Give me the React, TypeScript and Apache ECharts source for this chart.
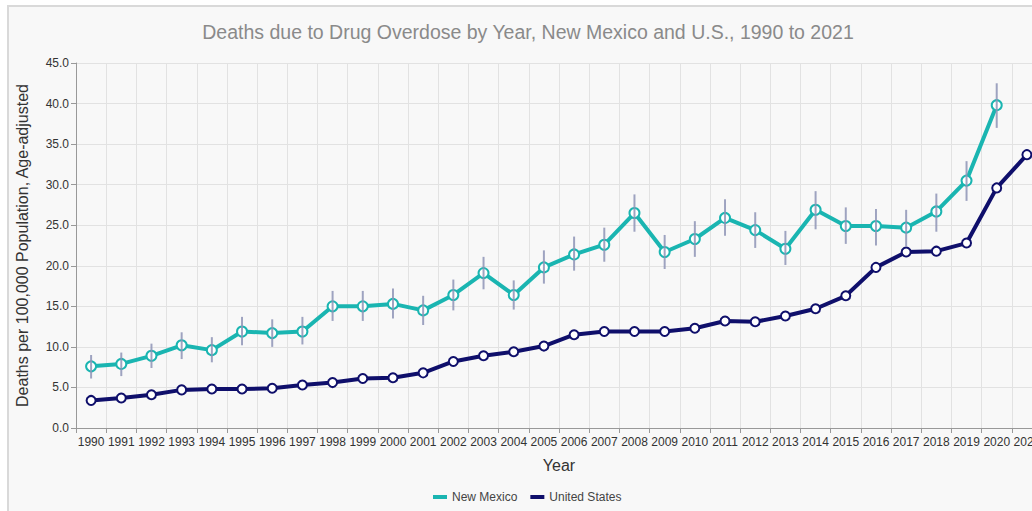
import React, { useEffect, useRef } from "react";
import * as echarts from "echarts";

const years = [
  "1990", "1991", "1992", "1993", "1994", "1995", "1996", "1997", "1998", "1999",
  "2000", "2001", "2002", "2003", "2004", "2005", "2006", "2007", "2008", "2009",
  "2010", "2011", "2012", "2013", "2014", "2015", "2016", "2017", "2018", "2019",
  "2020", "2021",
];

const newMexico = [
  7.6, 7.9, 8.9, 10.2, 9.6, 11.9, 11.7, 11.9, 15.0, 15.0,
  15.3, 14.5, 16.4, 19.1, 16.4, 19.8, 21.4, 22.6, 26.5, 21.7,
  23.3, 25.9, 24.4, 22.1, 26.9, 24.9, 24.9, 24.7, 26.7, 30.5,
  39.8, null,
];

const newMexicoLow = [
  6.1, 6.4, 7.4, 8.5, 8.1, 10.2, 10.0, 10.3, 13.2, 13.2,
  13.5, 12.7, 14.5, 17.1, 14.6, 17.8, 19.4, 20.5, 24.2, 19.6,
  21.1, 23.7, 22.2, 20.1, 24.5, 22.7, 22.5, 22.4, 24.2, 28.0,
  37.0, null,
];

const newMexicoHigh = [
  9.0, 9.3, 10.4, 11.8, 11.2, 13.7, 13.4, 13.7, 16.9, 16.9,
  17.2, 16.3, 18.3, 21.1, 18.2, 21.9, 23.6, 24.7, 28.8, 23.8,
  25.5, 28.2, 26.6, 24.3, 29.2, 27.2, 27.0, 26.9, 28.9, 32.9,
  42.5, null,
];

const unitedStates = [
  3.4, 3.7, 4.1, 4.7, 4.8, 4.8, 4.9, 5.3, 5.6, 6.1,
  6.2, 6.8, 8.2, 8.9, 9.4, 10.1, 11.5, 11.9, 11.9, 11.9,
  12.3, 13.2, 13.1, 13.8, 14.7, 16.3, 19.8, 21.7, 21.8, 22.8,
  29.6, 33.7,
];

const yTicks = { min: 0, max: 45, interval: 5 };

const NM_COLOR = "#1ab5b1";
const US_COLOR = "#0f0f6b";
const FONT = "Arial, 'Liberation Sans', sans-serif";

export default function App() {
  const ref = useRef<HTMLDivElement>(null);

  useEffect(() => {
    if (!ref.current) return;
    const chart = echarts.init(ref.current, undefined, { renderer: "svg" });

    const errData = years
      .map((_, i) =>
        newMexicoLow[i] == null || newMexicoHigh[i] == null
          ? null
          : [i, newMexicoLow[i], newMexicoHigh[i]]
      )
      .filter((d) => d !== null);

    chart.setOption({
      animation: false,
      backgroundColor: "#f8f8f8",
      textStyle: { fontFamily: FONT },
      title: {
        text: "Deaths due to Drug Overdose by Year, New Mexico and U.S., 1990 to 2021",
        left: 514,
        top: 10,
        textAlign: "center",
        textStyle: {
          color: "#8a8a8a",
          fontSize: 19.5,
          fontWeight: "normal",
          fontFamily: FONT,
        },
      },
      legend: {
        data: [
          { name: "New Mexico", itemStyle: { color: NM_COLOR, borderWidth: 0 } },
          { name: "United States", itemStyle: { color: US_COLOR, borderWidth: 0 } },
        ],
        left: 419,
        top: 479,
        icon: "rect",
        itemWidth: 14,
        itemHeight: 4,
        itemGap: 13,
        textStyle: { color: "#444", fontSize: 12, fontFamily: FONT },
      },
      grid: {
        left: 67,
        top: 56,
        width: 966,
        height: 365,
        containLabel: false,
        outerBoundsMode: "none",
      },
      xAxis: {
        type: "category",
        data: years,
        boundaryGap: true,
        name: "Year",
        nameLocation: "middle",
        nameGap: 29,
        nameTextStyle: { color: "#333", fontSize: 16, fontFamily: FONT },
        axisLine: { show: true, lineStyle: { color: "#999", width: 1 } },
        axisTick: { show: true, length: 5, lineStyle: { color: "#999" } },
        axisLabel: {
          interval: 0,
          color: "#333",
          fontSize: 12,
          margin: 8,
          fontFamily: FONT,
        },
        splitLine: { show: true, lineStyle: { color: "#e2e2e2", width: 1 } },
      },
      yAxis: {
        type: "value",
        min: yTicks.min,
        max: yTicks.max,
        interval: yTicks.interval,
        name: "Deaths per 100,000 Population, Age-adjusted",
        nameLocation: "middle",
        nameGap: 46,
        nameTextStyle: { color: "#333", fontSize: 16, fontFamily: FONT },
        axisLine: { show: true, lineStyle: { color: "#999", width: 1 } },
        axisTick: { show: true, length: 5, lineStyle: { color: "#999" } },
        axisLabel: {
          color: "#333",
          fontSize: 12,
          margin: 7,
          fontFamily: FONT,
          formatter: (v: number) => v.toFixed(1),
        },
        splitLine: { show: true, lineStyle: { color: "#e2e2e2", width: 1 } },
      },
      series: [
        {
          name: "United States",
          type: "line",
          data: unitedStates,
          color: US_COLOR,
          symbol: "circle",
          symbolSize: 9,
          showAllSymbol: true,
          lineStyle: { color: US_COLOR, width: 4 },
          itemStyle: { color: "#ffffff", borderColor: US_COLOR, borderWidth: 2 },
          z: 2,
        },
        {
          name: "New Mexico",
          type: "line",
          data: newMexico,
          color: NM_COLOR,
          symbol: "circle",
          symbolSize: 10,
          showAllSymbol: true,
          lineStyle: { color: NM_COLOR, width: 4 },
          itemStyle: { color: "#ffffff", borderColor: NM_COLOR, borderWidth: 2 },
          z: 3,
        },
        {
          name: "NM CI",
          type: "custom",
          data: errData,
          z: 4,
          silent: true,
          renderItem: (_params: any, api: any) => {
            const x = api.value(0);
            const p1 = api.coord([x, api.value(1)]);
            const p2 = api.coord([x, api.value(2)]);
            return {
              type: "line",
              shape: { x1: p1[0], y1: p1[1], x2: p2[0], y2: p2[1] },
              style: { stroke: "#8e94b6", lineWidth: 2, opacity: 0.85 },
            };
          },
        },
      ],
    });

    return () => chart.dispose();
  }, []);

  return (
    <div
      style={{
        position: "absolute",
        left: 7,
        top: 5,
        border: "2px solid #d9d9d9",
        background: "#f8f8f8",
        width: 1100,
        height: 540,
      }}
    >
      <div ref={ref} style={{ width: 1100, height: 540 }} />
    </div>
  );
}
